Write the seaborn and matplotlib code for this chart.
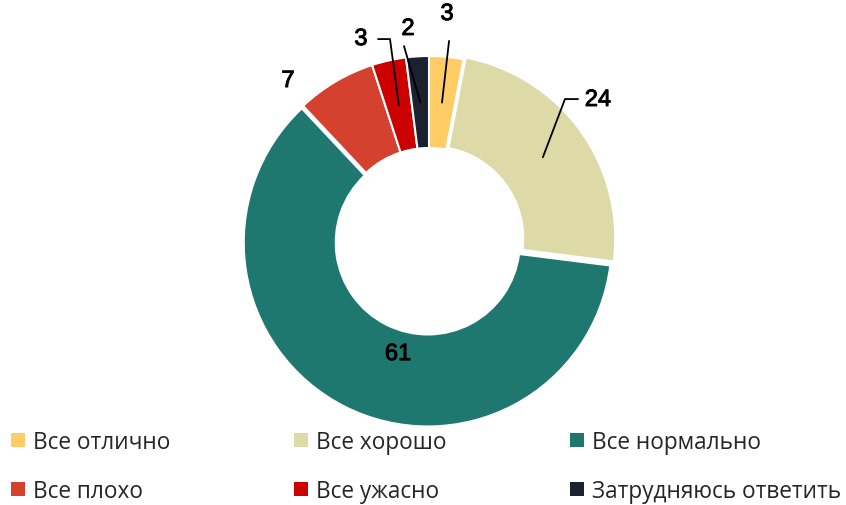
import matplotlib.pyplot as plt
import matplotlib.patheffects as pe
import numpy as np
import seaborn as sns

categories = ['Все отлично', 'Все хорошо', 'Все нормально',
              'Все плохо', 'Все ужасно', 'Затрудняюсь ответить']
values = [3, 24, 61, 7, 3, 2]
colors = ['#FFCC66', '#DDDAA8', '#1F7870', '#D5412F', '#CC0000', '#1C2130']

sns.set_theme(style='white')
plt.rcParams['font.family'] = ['Liberation Sans', 'DejaVu Sans']

fig = plt.figure(figsize=(8.46, 5.06), dpi=100)
ax = fig.add_axes([0, 0, 1, 1])

wedges, _ = ax.pie(values, colors=colors, startangle=90, counterclock=False,
                   radius=1, explode=[0, 0.015, 0.015, 0, 0, 0],
                   wedgeprops=dict(width=0.5, edgecolor='white', linewidth=1.5))

# label positions (layout only) and optional leader elbow points
label_pos = [(0.098, 1.228), (0.918, 0.761), (-0.168, -0.620),
             (-0.766, 0.864), (-0.370, 1.092), (-0.114, 1.147)]
leader_pts = [[(0.109, 1.082)],
              [(0.739, 0.766), (0.810, 0.766)],
              None,
              None,
              [(-0.212, 1.092), (-0.277, 1.092)],
              [(-0.136, 1.054)]]

for w, v, pos, pts in zip(wedges, values, label_pos, leader_pts):
    ang = np.deg2rad((w.theta1 + w.theta2) / 2)
    cx, cy = w.center
    if pts is not None:
        start = (cx + 0.75 * np.cos(ang), cy + 0.75 * np.sin(ang))
        xs = [start[0]] + [p[0] for p in pts]
        ys = [start[1]] + [p[1] for p in pts]
        ax.plot(xs, ys, color='black', lw=1.3)
    ax.text(pos[0], pos[1], str(v), ha='center', va='center',
            fontsize=17, color='black',
            path_effects=[pe.withStroke(linewidth=0.7, foreground='black')])

ax.set_xlim(-429 / 184, (846 - 429) / 184)
ax.set_ylim(-265 / 184, 241 / 184)
ax.set_aspect('equal')
ax.axis('off')

order = [0, 3, 1, 4, 2, 5]
leg = fig.legend([wedges[i] for i in order], [categories[i] for i in order],
                 ncol=3, loc='lower left', bbox_to_anchor=(0.013, 0.004),
                 frameon=False, handlelength=0.6, handleheight=0.6,
                 handletextpad=0.37, columnspacing=5.47, labelspacing=1.1,
                 borderpad=0, borderaxespad=0,
                 prop={'family': ['Open Sans', 'DejaVu Sans'], 'size': 16.3})
for h in leg.legend_handles:
    h.set_edgecolor('none')

fig.savefig('out.png', dpi=100)
